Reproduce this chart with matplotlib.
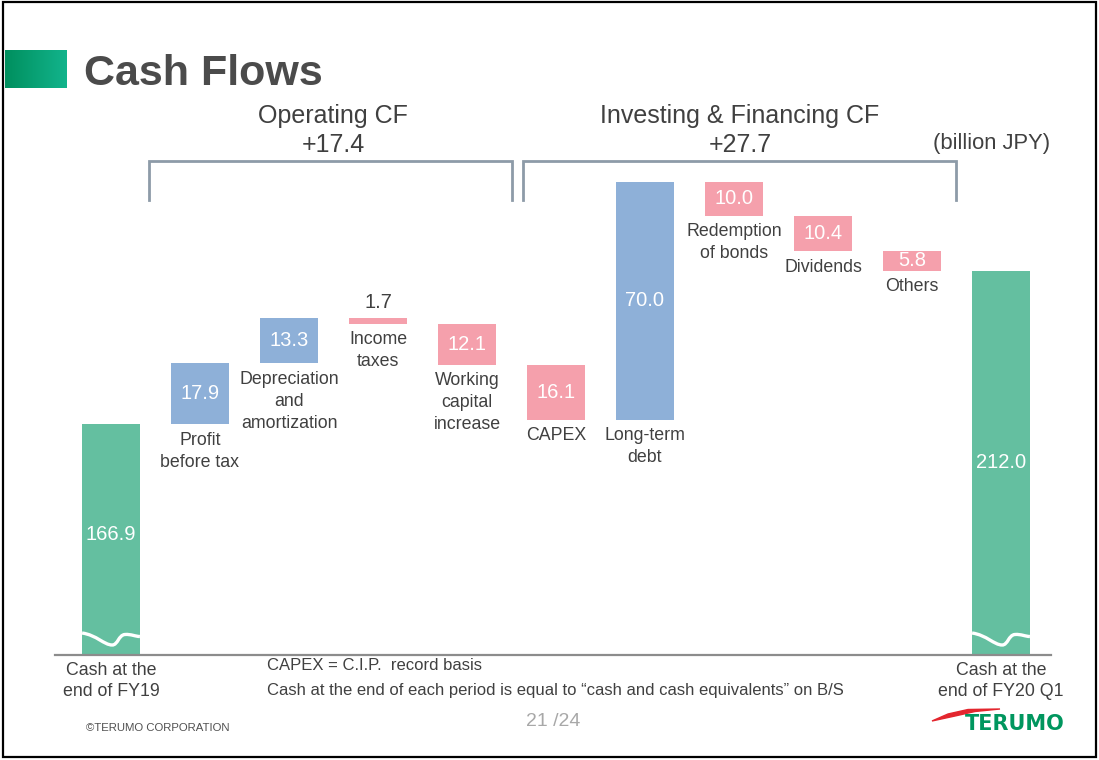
import matplotlib
matplotlib.use("Agg")
import matplotlib.pyplot as plt
from matplotlib.patches import Rectangle, Polygon, PathPatch
from matplotlib.path import Path
from matplotlib.lines import Line2D
from matplotlib.colors import LinearSegmentedColormap
import numpy as np

plt.rcParams['font.family'] = ['Liberation Sans', 'DejaVu Sans']

# ---------------- data ----------------
categories = ["Cash at the\nend of FY19", "Profit\nbefore tax", "Depreciation\nand\namortization",
              "Income\ntaxes", "Working\ncapital\nincrease", "CAPEX", "Long-term\ndebt",
              "Redemption\nof bonds", "Dividends", "Others", "Cash at the\nend of FY20 Q1"]
start_cash = 166.9
end_cash = 212.0
changes = [17.9, 13.3, -1.7, -12.1, -16.1, 70.0, -10.0, -10.4, -5.8]
group_titles = ["Operating CF", "Investing & Financing CF"]
group_totals = ["+17.4", "+27.7"]
unit_label = "(billion JPY)"
notes = ["CAPEX = C.I.P.  record basis",
         "Cash at the end of each period is equal to \u201ccash and cash equivalents\u201d on B/S"]

# ---------------- style ----------------
W, H = 1099, 760
GREEN = "#64BFA0"
BLUE = "#8EB0D8"
PINK = "#F5A0AC"
TXT = "#404040"
Y0 = 98.96          # axis break level (bottom of visible axis)
PXU = 3.4           # pixels per unit

fig = plt.figure(figsize=(W / 100, H / 100), dpi=100)
fig.patch.set_facecolor("white")

def fx(px):
    return px / W

def fy(py):
    return 1 - py / H

ax_left, ax_right, ax_bottom, ax_top = 55, 1051, 655, 100
ax = fig.add_axes([fx(ax_left), fy(ax_bottom), fx(ax_right) - fx(ax_left), fy(ax_top) - fy(ax_bottom)])
x0_px, step_px = 111, 89
ax.set_xlim((ax_left - x0_px) / step_px, (ax_right - x0_px) / step_px)
ax.set_ylim(Y0, Y0 + (ax_bottom - ax_top) / PXU)
ax.axis("off")

bw = 0.65
n = len(categories)
xs = np.arange(n)

# totals
ax.bar(xs[0], start_cash, width=bw, color=GREEN, zorder=2)
ax.bar(xs[-1], end_cash, width=bw, color=GREEN, zorder=2)

# floating changes
level = start_cash
bottoms, tops = [], []
for i, c in enumerate(changes):
    new = level + c
    b, t = min(level, new), max(level, new)
    bottoms.append(b)
    tops.append(t)
    ax.bar(xs[i + 1], t - b, bottom=b, width=bw, color=BLUE if c > 0 else PINK, zorder=2)
    level = new

# axis break waves (decorative)
def wave(xc):
    l = xc - bw / 2
    r = xc + bw / 2
    def P(u, h):
        return (l + u * (r - l), Y0 + h / PXU)
    verts = [P(0, 22), P(0.25, 20), P(0.38, 10), P(0.52, 10),
             P(0.62, 10), P(0.63, 20), P(0.74, 20.5),
             P(0.85, 21), P(0.92, 18.5), P(1.0, 18.5)]
    codes = [Path.MOVETO] + [Path.CURVE4] * 9
    ax.add_patch(PathPatch(Path(verts, codes), fill=False, edgecolor="white", lw=2.4,
                           zorder=3, clip_on=True))

wave(xs[0])
wave(xs[-1])

# value labels
VFS = 14.5
ax.text(xs[0], (Y0 + start_cash) / 2 + 1.5, f"{start_cash:.1f}", ha="center", va="center",
        color="white", fontsize=VFS, zorder=4)
ax.text(xs[-1], (Y0 + end_cash) / 2, f"{end_cash:.1f}", ha="center", va="center",
        color="white", fontsize=VFS, zorder=4)
for i, c in enumerate(changes):
    b, t = bottoms[i], tops[i]
    if t - b < 5:
        ax.annotate(f"{abs(c):.1f}", (xs[i + 1], t), xytext=(0, 4), textcoords="offset points",
                    ha="center", va="bottom", color=TXT, fontsize=VFS)
    else:
        ax.text(xs[i + 1], (b + t) / 2, f"{abs(c):.1f}", ha="center", va="center",
                color="white", fontsize=VFS, zorder=4)
    ax.annotate(categories[i + 1], (xs[i + 1], b), xytext=(0, -5.5), textcoords="offset points",
                ha="center", va="top", color=TXT, fontsize=12.8, linespacing=1.38)

# baseline
fig.add_artist(Line2D([fx(55), fx(1051)], [fy(655), fy(655)], color="#8C8C8C", lw=1.6))

# start/end labels
fig.text(fx(111), fy(681), categories[0], ha="center", va="center", color=TXT,
         fontsize=12.8, linespacing=1.25)
fig.text(fx(1001), fy(681), categories[-1], ha="center", va="center", color=TXT,
         fontsize=12.8, linespacing=1.25)

# group brackets
BRC = "#8D9BA8"
for (l, r) in [(149, 512), (523, 956)]:
    fig.add_artist(Line2D([fx(l), fx(l), fx(r), fx(r)], [fy(200), fy(161), fy(161), fy(200)],
                          color=BRC, lw=2.0, solid_joinstyle="miter"))
for cx, t1, t2 in [(333, group_titles[0], group_totals[0]), (740, group_titles[1], group_totals[1])]:
    fig.text(fx(cx), fy(116), t1, ha="center", va="center", color=TXT, fontsize=18)
    fig.text(fx(cx), fy(145), t2, ha="center", va="center", color=TXT, fontsize=18)
fig.text(fx(1050), fy(143), unit_label, ha="right", va="center", color=TXT, fontsize=15.8)

# notes
fig.text(fx(267), fy(665), notes[0], ha="left", va="center", color=TXT, fontsize=12)
fig.text(fx(267), fy(690), notes[1], ha="left", va="center", color=TXT, fontsize=12)

# title with gradient block
gax = fig.add_axes([fx(5), fy(88), fx(67) - fx(5), fy(50) - fy(88)])
grad = np.linspace(0, 1, 256).reshape(1, -1)
cm = LinearSegmentedColormap.from_list("g", ["#008F5E", "#12B48C"])
gax.imshow(grad, aspect="auto", cmap=cm)
gax.axis("off")
fig.text(fx(84), fy(85), "Cash Flows", ha="left", va="baseline", color="#4B4B4B",
         fontsize=31, fontweight="bold")

# footer
fig.text(fx(86), fy(728), "\u00a9TERUMO CORPORATION", ha="left", va="center", color="#505050",
         fontsize=8.2)
fig.text(fx(553), fy(722), "21 /24", ha="center", va="center", color="#A8A8A8", fontsize=14)
fig.add_artist(Polygon([(fx(932), fy(721)), (fx(948), fy(714)), (fx(968), fy(709.5)),
                        (fx(1000), fy(709)), (fx(975), fy(711.5)), (fx(955), fy(716))],
                       closed=True, color="#E3262E", transform=fig.transFigure))
fig.text(fx(1065), fy(724), "TERUMO", ha="right", va="center", color="#00965E",
         fontsize=15, fontweight="heavy", family="DejaVu Sans")

# frame
fig.add_artist(Rectangle((fx(3), fy(757)), fx(1096) - fx(3), fy(2) - fy(757), fill=False,
                         edgecolor="black", lw=1.6, transform=fig.transFigure))

fig.savefig("out.png", dpi=100, facecolor="white")
